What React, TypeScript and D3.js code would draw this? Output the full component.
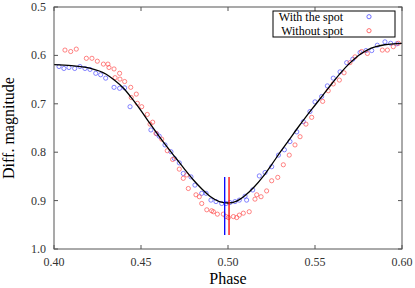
import React from "react";
import * as d3 from "d3";

const withPhase = [0.4029,0.4057,0.4086,0.4119,0.4149,0.4178,0.4207,0.4240,0.4268,0.4297,0.4345,0.4377,0.4406,0.4437,0.4557,0.4590,0.4605,0.4638,0.4672,0.4692,0.4720,0.4743,0.4787,0.4810,0.4849,0.4874,0.4902,0.4931,0.4964,0.4989,0.5011,0.5040,0.5065,0.5098,0.5107,0.5142,0.5180,0.5213,0.5251,0.5290,0.5324,0.5356,0.5395,0.5433,0.5471,0.5500,0.5538,0.5571,0.5605,0.5644,0.5682,0.5717,0.5759,0.5793,0.5826,0.5858,0.5902,0.5935,0.5970];
const withMag = [0.623,0.627,0.625,0.627,0.623,0.627,0.629,0.637,0.640,0.647,0.666,0.668,0.667,0.706,0.754,0.762,0.767,0.785,0.799,0.813,0.822,0.844,0.851,0.868,0.885,0.885,0.899,0.902,0.906,0.906,0.904,0.902,0.899,0.891,0.899,0.878,0.849,0.842,0.830,0.806,0.795,0.778,0.758,0.737,0.716,0.696,0.685,0.663,0.647,0.634,0.615,0.608,0.594,0.590,0.590,0.579,0.572,0.575,0.576];

const withoutPhase = [0.4063,0.4096,0.4128,0.4186,0.4218,0.4249,0.4284,0.4310,0.4316,0.4345,0.4351,0.4377,0.4379,0.4406,0.4441,0.4444,0.4473,0.4479,0.4504,0.4536,0.4552,0.4567,0.4586,0.4619,0.4651,0.4682,0.4720,0.4743,0.4763,0.4772,0.4816,0.4835,0.4849,0.4878,0.4906,0.4916,0.4939,0.4973,0.4989,0.5002,0.5031,0.5050,0.5065,0.5088,0.5122,0.5155,0.5165,0.5190,0.5222,0.5251,0.5286,0.5318,0.5352,0.5385,0.5414,0.5448,0.5481,0.5544,0.5576,0.5605,0.5640,0.5667,0.5701,0.5730,0.5768,0.5801,0.5887,0.5916,0.5950,0.5979];
const withoutMag = [0.589,0.592,0.587,0.606,0.606,0.612,0.618,0.618,0.625,0.628,0.646,0.637,0.649,0.654,0.666,0.687,0.680,0.699,0.706,0.722,0.742,0.738,0.761,0.773,0.797,0.815,0.835,0.854,0.847,0.875,0.888,0.892,0.906,0.919,0.921,0.923,0.928,0.928,0.933,0.935,0.933,0.935,0.930,0.926,0.923,0.897,0.888,0.892,0.880,0.859,0.852,0.826,0.806,0.785,0.768,0.742,0.728,0.695,0.673,0.659,0.651,0.636,0.615,0.603,0.592,0.596,0.589,0.589,0.582,0.575];

const fitPhase = [0.400,0.410,0.420,0.430,0.435,0.440,0.445,0.450,0.455,0.460,0.465,0.470,0.475,0.480,0.485,0.490,0.495,0.500,0.505,0.510,0.515,0.520,0.525,0.530,0.535,0.540,0.545,0.550,0.555,0.560,0.565,0.570,0.575,0.580,0.585,0.590,0.595,0.600];
const fitMag = [0.619,0.621,0.626,0.639,0.652,0.668,0.690,0.714,0.740,0.765,0.789,0.812,0.835,0.857,0.876,0.892,0.902,0.905,0.901,0.889,0.872,0.851,0.826,0.800,0.775,0.750,0.726,0.703,0.680,0.657,0.635,0.616,0.600,0.589,0.582,0.578,0.576,0.575];

const minPhases = [0.4981, 0.5006];
const minColors = ["#0000ff", "#ff0000"];
const minRange = [0.851, 0.971];

const xTicks = [0.40, 0.45, 0.50, 0.55, 0.60];
const yTicks = [0.5, 0.6, 0.7, 0.8, 0.9, 1.0];
const legendLabels = ["With the spot", "Without spot"];
const seriesColors = ["#4a4aff", "#ff4a4a"];

const W = 415, H = 288;
const L = 54, R = 402, T = 7, B = 249;
const FONT = "'Liberation Serif', 'Times New Roman', serif";

export default function App() {
  const x = d3.scaleLinear().domain([0.40, 0.60]).range([L, R]);
  const y = d3.scaleLinear().domain([0.5, 1.0]).range([T, B]);
  const line = d3.line<number>()
    .x((_, i) => x(fitPhase[i]))
    .y((d) => y(d))
    .curve(d3.curveMonotoneX);
  const axisColor = "#555";
  const series = [
    { p: withPhase, m: withMag, c: seriesColors[0] },
    { p: withoutPhase, m: withoutMag, c: seriesColors[1] },
  ];
  return (
    <svg width={W} height={H} style={{ position: "absolute", left: 0, top: 0 }} fontFamily={FONT}>
      <rect x={0} y={0} width={W} height={H} fill="#fff" />
      {series.map((s, si) => (
        <g key={si}>
          {s.p.map((p, i) => (
            <circle key={i} cx={x(p)} cy={y(s.m[i])} r={2.1} fill="none" stroke={s.c} strokeWidth={0.8} strokeOpacity={0.85} />
          ))}
        </g>
      ))}
      <path d={line(fitMag) || ""} fill="none" stroke="#000" strokeWidth={1.3} />
      {minPhases.map((p, i) => (
        <line key={i} x1={x(p)} x2={x(p)} y1={y(minRange[0])} y2={y(minRange[1])} stroke={minColors[i]} strokeWidth={1.3} />
      ))}
      <rect x={L} y={T} width={R - L} height={B - T} fill="none" stroke={axisColor} strokeWidth={1} />
      {xTicks.map((t, i) => (
        <g key={i}>
          <line x1={x(t)} x2={x(t)} y1={B} y2={B - 4} stroke={axisColor} />
          <line x1={x(t)} x2={x(t)} y1={T} y2={T + 4} stroke={axisColor} />
          <text x={x(t)} y={266} textAnchor="middle" fontSize={12} fill="#333">{t.toFixed(2)}</text>
        </g>
      ))}
      {yTicks.map((t, i) => (
        <g key={i}>
          <line x1={L} x2={L + 4} y1={y(t)} y2={y(t)} stroke={axisColor} />
          <line x1={R} x2={R - 4} y1={y(t)} y2={y(t)} stroke={axisColor} />
          <text x={46} y={y(t) + 4} textAnchor="end" fontSize={12} fill="#333">{t.toFixed(1)}</text>
        </g>
      ))}
      <text x={(L + R) / 2} y={284} textAnchor="middle" fontSize={16} fill="#000">Phase</text>
      <text transform={`translate(14,${(T + B) / 2}) rotate(-90)`} textAnchor="middle" fontSize={16} fill="#000">Diff. magnitude</text>
      <rect x={273} y={11} width={122} height={26} fill="#fff" stroke="#000" strokeWidth={1} />
      {legendLabels.map((lab, i) => (
        <g key={i}>
          <text x={343} y={21 + i * 13.5} textAnchor="end" fontSize={12} fill="#000">{lab}</text>
          <circle cx={369} cy={16.7 + i * 14} r={2.1} fill="none" stroke={seriesColors[i]} strokeWidth={0.8} />
        </g>
      ))}
    </svg>
  );
}
